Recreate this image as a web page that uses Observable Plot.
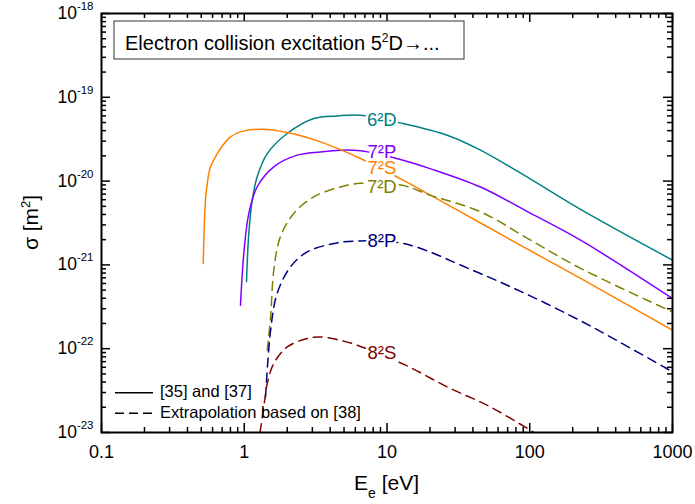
<!DOCTYPE html>
<html>
<head>
<meta charset="utf-8">
<script src="https://cdn.jsdelivr.net/npm/d3@7"></script>
<script src="https://cdn.jsdelivr.net/npm/@observablehq/plot@0.6"></script>
<style>
  html, body { margin: 0; padding: 0; background: #fff; }
  #chart { width: 695px; height: 504px; }
</style>
</head>
<body>
<div id="chart"></div>
<script>
// ---------- data ----------
// 5²D -> 6²D  (solid, [35] and [37])
const E_6D = [1.037, 1.076, 1.137, 1.23, 1.45, 2.0, 3.07, 4.5, 6.52, 12.4, 26.4, 45.2, 100, 227, 1000];
const S_6D = [6.3e-22, 2.37e-21, 5.9e-21, 1.12e-20, 2.13e-20, 3.7e-20, 5.58e-20, 6.0e-20, 6.11e-20, 4.95e-20, 3.53e-20, 2.34e-20, 1.07e-20, 4.6e-21, 1.14e-21];
// 5²D -> 7²P  (solid)
const E_7P = [0.941, 0.993, 1.076, 1.23, 1.61, 2.35, 3.42, 4.72, 6.52, 12.4, 20, 45.2, 100, 227, 1000];
const S_7P = [3.3e-22, 1.37e-21, 4.1e-21, 8.5e-21, 1.48e-20, 2.04e-20, 2.23e-20, 2.34e-20, 2.3e-20, 1.81e-20, 1.41e-20, 8.5e-21, 4.18e-21, 1.97e-21, 3.97e-22];
// 5²D -> 7²S  (solid)
const E_7S = [0.516, 0.535, 0.555, 0.58, 0.629, 0.682, 0.801, 0.941, 1.336, 2.0, 3.42, 6.52, 12.4, 20, 45.2, 100, 227, 1000];
const S_7S = [1.04e-21, 5.9e-21, 1.03e-20, 1.48e-20, 1.95e-20, 2.45e-20, 3.37e-20, 3.87e-20, 4.16e-20, 3.8e-20, 2.94e-20, 1.86e-20, 1.07e-20, 6.84e-21, 3.16e-21, 1.49e-21, 6.9e-22, 1.66e-22];
// 5²D -> 7²D  (dashed, extrapolation)
const E_7D = [1.45, 1.53, 1.61, 1.79, 2.22, 3.07, 4.72, 6.52, 12.8, 20, 45.2, 100, 227, 1000];
const S_7D = [9.6e-23, 2.4e-22, 8.6e-22, 2.16e-21, 4.1e-21, 6.5e-21, 8.5e-21, 9.4e-21, 8.9e-21, 6.8e-21, 4.3e-21, 2.0e-21, 9.1e-22, 2.75e-22];
// 5²D -> 8²P  (dashed)
const E_8P = [1.41, 1.53, 1.70, 2.11, 2.76, 4.24, 6.18, 13.1, 40.6, 100, 227, 349, 1000];
const S_8P = [2.66e-23, 1.66e-22, 4.56e-22, 9.5e-22, 1.43e-21, 1.8e-21, 1.93e-21, 1.8e-21, 8.5e-22, 4.3e-22, 2.15e-22, 1.45e-22, 5.3e-23];
// 5²D -> 8²S  (dashed)
const E_8S = [1.29, 1.38, 1.45, 1.61, 2.0, 2.76, 3.42, 4.72, 6.18, 13.5, 26.4, 53, 107];
const S_8S = [1.0e-23, 2.2e-23, 3.85e-23, 6.66e-23, 1.05e-22, 1.32e-22, 1.38e-22, 1.26e-22, 1.1e-22, 6.36e-23, 3.5e-23, 2.02e-23, 1.0e-23];

const seriesNames  = ["6²D", "7²P", "7²S", "7²D", "8²P", "8²S"];
const seriesE      = [E_6D, E_7P, E_7S, E_7D, E_8P, E_8S];
const seriesS      = [S_6D, S_7P, S_7S, S_7D, S_8P, S_8S];
const seriesColors = ["#008080", "#8000FF", "#FF8000", "#808000", "#000080", "#800000"];
const seriesDashed = [false, false, false, true, true, true];

// in-plot curve labels (data coordinates)
const labelE     = [9.2, 9.2, 9.2, 9.2, 9.2, 9.2];
const labelSigma = [5.33e-20, 2.24e-20, 1.43e-20, 8.57e-21, 1.95e-21, 8.83e-23];

// ticks
const xMajor = [0.1, 1, 10, 100, 1000];
const yMajor = [1e-23, 1e-22, 1e-21, 1e-20, 1e-19, 1e-18];
const minorMult = [2, 3, 4, 5, 6, 7, 8, 9];
const xMinor = xMajor.slice(0, -1).flatMap(d => minorMult.map(m => m * d));
const yMinor = yMajor.slice(0, -1).flatMap(d => minorMult.map(m => m * d));

const titleText = "Electron collision excitation 5";
const legendSolid = "[35] and [37]";
const legendDashed = "Extrapolation based on [38]";

// ---------- build ----------
const FONT = "'Liberation Sans', Arial, Helvetica, sans-serif";
const W = 695, H = 504, ML = 101, MR = 23, MT = 13, MB = 72;
const FW = W - ML - MR, FH = H - MT - MB;
const MAJ = 9, MIN = 5;

const seriesRows = seriesNames.map((name, i) =>
  seriesE[i].map((e, j) => ({state: name, E: e, sigma: seriesS[i][j]})));
const labelRows = seriesNames.map((name, i) =>
  ({name, E: labelE[i], sigma: labelSigma[i], color: seriesColors[i]}));

const lineMarks = seriesRows.map((rows, i) =>
  Plot.line(rows, {
    x: "E", y: "sigma",
    stroke: seriesColors[i], strokeWidth: 1.5,
    strokeDasharray: seriesDashed[i] ? "9,6" : null,
    curve: "catmull-rom", clip: true
  }));

const chart = Plot.plot({
  width: W, height: H,
  marginLeft: ML, marginRight: MR, marginTop: MT, marginBottom: MB,
  style: {fontFamily: FONT, fontSize: "17px", color: "black", background: "white"},
  x: {type: "log", domain: [0.1, 1000]},
  y: {type: "log", domain: [1e-23, 1e-18]},
  color: {type: "identity"},
  marks: [
    ...lineMarks,
    Plot.text(labelRows, {
      x: "E", y: "sigma", text: "name", fill: "color",
      fontSize: 18.5, textAnchor: "middle",
      stroke: "white", strokeWidth: 5
    }),
    // inward ticks: bottom / top
    Plot.tickX(xMajor, {insetTop: FH - MAJ, stroke: "black", strokeWidth: 1.5}),
    Plot.tickX(xMinor, {insetTop: FH - MIN, stroke: "black", strokeWidth: 1.5}),
    Plot.tickX(xMajor, {insetBottom: FH - MAJ, stroke: "black", strokeWidth: 1.5}),
    Plot.tickX(xMinor, {insetBottom: FH - MIN, stroke: "black", strokeWidth: 1.5}),
    // inward ticks: left / right
    Plot.tickY(yMajor, {insetRight: FW - MAJ, stroke: "black", strokeWidth: 1.5}),
    Plot.tickY(yMinor, {insetRight: FW - MIN, stroke: "black", strokeWidth: 1.5}),
    Plot.tickY(yMajor, {insetLeft: FW - MAJ, stroke: "black", strokeWidth: 1.5}),
    Plot.tickY(yMinor, {insetLeft: FW - MIN, stroke: "black", strokeWidth: 1.5}),
    Plot.axisX({ticks: xMajor, tickSize: 0, tickPadding: 13, tickFormat: d => String(d), label: null, fontSize: 18}),
    Plot.axisY({ticks: yMajor, tickSize: 0, tickPadding: 8, tickFormat: d => String(Math.round(Math.log10(d))), label: null, fontSize: 17}),
    Plot.frame({stroke: "black", strokeWidth: 2})
  ]
});

const svg = d3.select(chart);

// x tick labels: explicit size
svg.selectAll('g[aria-label="x-axis tick label"] text').attr("font-size", 18);

// y tick labels as 10^n with a real superscript
svg.selectAll('g[aria-label="y-axis tick label"] text').each(function () {
  const t = d3.select(this);
  const exp = t.text();
  t.text("");
  t.attr("text-anchor", "end");
  t.append("tspan").attr("font-size", 17.5).text("10");
  t.append("tspan").attr("dy", -9).attr("font-size", 11.5).text(exp);
});

// title box
const tg = svg.append("g").attr("font-family", FONT).attr("text-anchor", "start");
tg.append("rect").attr("x", 114).attr("y", 21).attr("width", 350).attr("height", 38)
  .attr("fill", "white").attr("stroke", "#333").attr("stroke-width", 1);
const tt = tg.append("text").attr("x", 125).attr("y", 49.5).attr("font-size", 20).attr("fill", "black")
  .attr("text-anchor", "start");
tt.append("tspan").text(titleText);
tt.append("tspan").attr("dy", -8).attr("font-size", 12).text("2");
tt.append("tspan").attr("dy", 8).text("D→...");

// legend
const lg = svg.append("g").attr("font-family", FONT).attr("font-size", 16.5).attr("text-anchor", "start");
lg.append("line").attr("x1", 115).attr("x2", 153).attr("y1", 392.7).attr("y2", 392.7)
  .attr("stroke", "black").attr("stroke-width", 1.5);
lg.append("text").attr("x", 160).attr("y", 397).attr("text-anchor", "start").text(legendSolid);
lg.append("line").attr("x1", 115).attr("x2", 153).attr("y1", 413.3).attr("y2", 413.3)
  .attr("stroke", "black").attr("stroke-width", 1.5).attr("stroke-dasharray", "9,5");
lg.append("text").attr("x", 160).attr("y", 417.5).attr("text-anchor", "start").text(legendDashed);

// x axis title E_e [eV]
const xt = svg.append("text").attr("x", 386.5).attr("y", 490).attr("text-anchor", "middle")
  .attr("font-family", FONT).attr("font-size", 21);
xt.append("tspan").text("E");
xt.append("tspan").attr("dy", 8).attr("font-size", 14).text("e");
xt.append("tspan").attr("dy", -8).text(" [eV]");

// y axis title σ [m²]
const yt = svg.append("text").attr("transform", "translate(38,222.5) rotate(-90)")
  .attr("text-anchor", "middle").attr("font-family", FONT).attr("font-size", 21);
yt.append("tspan").text("σ [m");
yt.append("tspan").attr("dy", -8).attr("font-size", 13).text("2");
yt.append("tspan").attr("dy", 8).text("]");

document.getElementById("chart").appendChild(chart);
</script>
</body>
</html>
